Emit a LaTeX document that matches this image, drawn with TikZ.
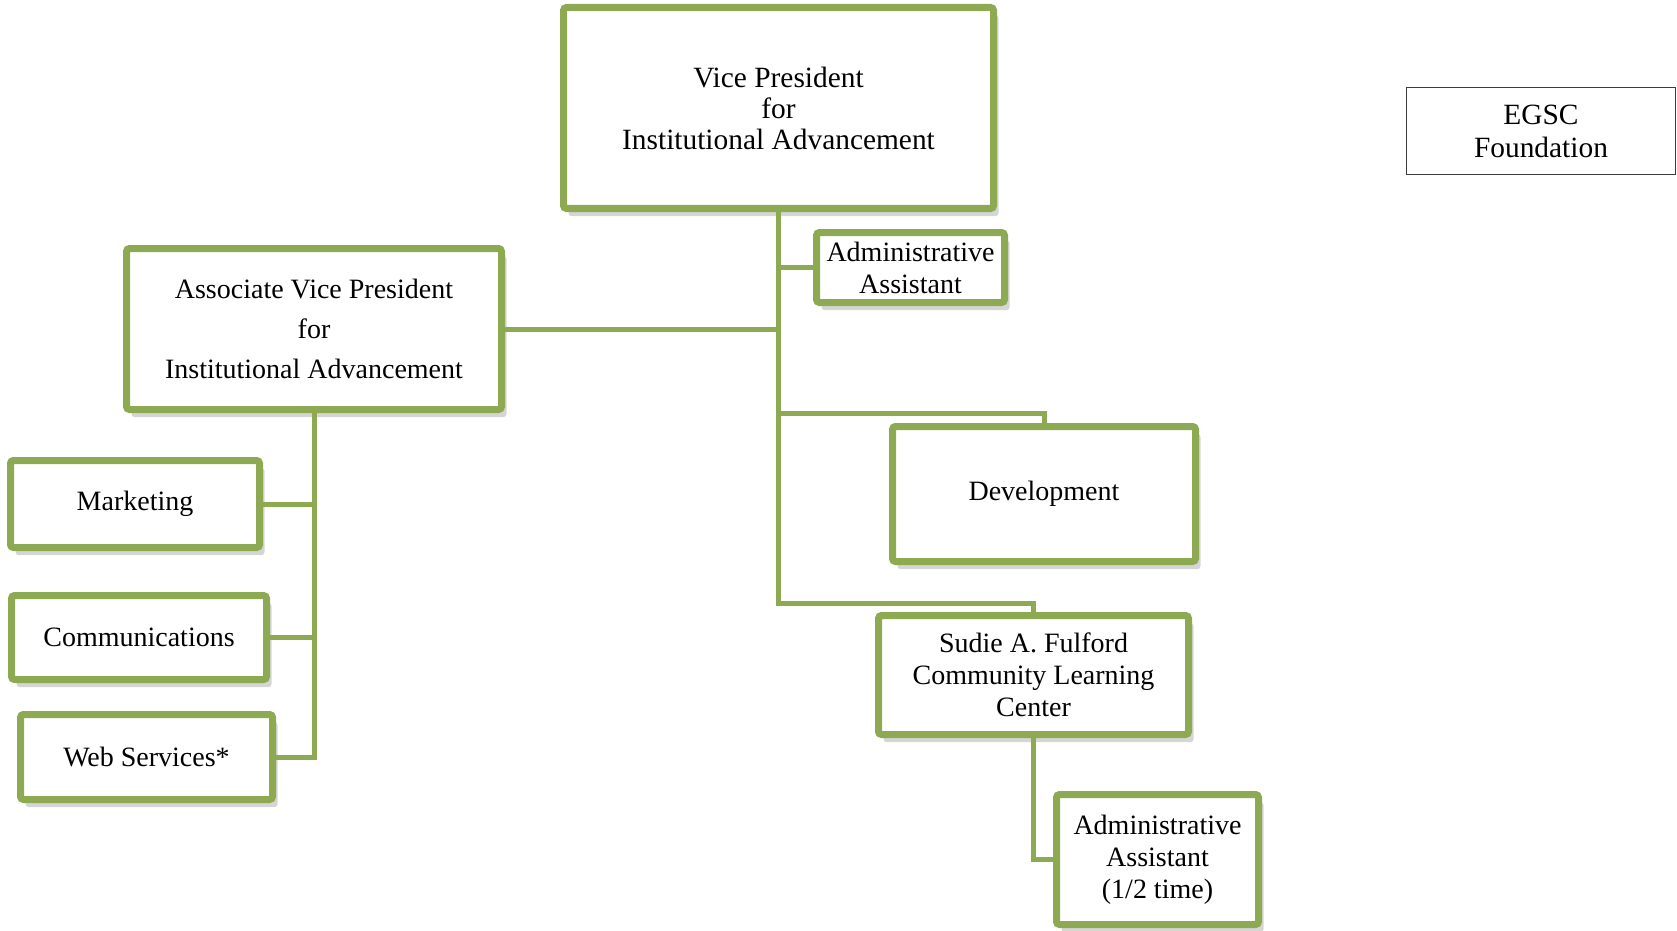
\documentclass[tikz,border=0pt]{standalone}
\usepackage{fontspec}
\setmainfont{Liberation Serif}
\usepackage{xcolor}
\usepackage{tikz}
\usetikzlibrary{positioning, shadows, calc}
\definecolor{olivegreen}{RGB}{141, 170, 82}
\definecolor{framegray}{RGB}{60, 60, 60}
\tikzstyle{unit} = [
    rectangle,
    rounded corners=1.5pt,
    align=center,
    draw=olivegreen,
    line width=3.5pt,
    fill=white,
    inner sep=0pt,
    font=\fontsize{14}{16}\selectfont,
    drop shadow={shadow xshift=2.5pt, shadow yshift=-3.8pt, opacity=0.3, fill=black!55}
]
\tikzstyle{plainbox} = [
    rectangle,
    align=center,
    draw=framegray,
    line width=0.75pt,
    inner sep=0pt,
    font=\fontsize{14.7}{16.5}\selectfont
]
\tikzstyle{link} = [
    line width=2.5pt,
    color=olivegreen
]

\begin{document}
\begin{tikzpicture}[x=0.5pt, y=-0.5pt]
        \useasboundingbox (0,0) rectangle (1677,931);

        % Nodes
        \node[unit, minimum width=215pt, minimum height=100.5pt, font=\fontsize{14.7}{15.5}\selectfont] (vp) at (778.5, 108) {Vice President\\for\\Institutional Advancement};
        \node[unit, minimum width=94pt, minimum height=35pt] (aa) at (910.5, 267.5) {Administrative\\Assistant};
        \node[unit, minimum width=187.5pt, minimum height=80.5pt, font=\fontsize{14}{20}\selectfont] (avp) at (314, 329) {Associate Vice President\\for\\Institutional Advancement};
        \node[unit, minimum width=124.5pt, minimum height=43.5pt] (mkt) at (135, 504) {Marketing};
        \node[unit, minimum width=127.5pt, minimum height=42pt] (comm) at (139, 637.5) {Communications};
        \node[unit, minimum width=126pt, minimum height=42.5pt] (web) at (146.5, 757) {Web Services*};
        \node[unit, minimum width=151.5pt, minimum height=67.5pt] (dev) at (1044, 494) {Development};
        \node[unit, minimum width=155pt, minimum height=59.5pt] (clc) at (1033.5, 675) {Sudie A. Fulford\\Community Learning\\Center};
        \node[unit, minimum width=101pt, minimum height=65pt] (aahalf) at (1157.5, 859.5) {Administrative\\Assistant\\(1/2 time)};
        \node[plainbox, minimum width=134.5pt, minimum height=43.5pt] (egsc) at (1541, 131) {EGSC\\Foundation};

        % Connectors - vice president
        \draw[link] (vp.south) |- (aa.west);
        \draw[link] (avp.east) -| (vp.south);
        \draw[link] (vp.south) |- ([yshift=4.75pt]dev.north) -- (dev.north);
        \draw[link] (vp.south) |- ([yshift=4.25pt]clc.north) -- (clc.north);
        \draw[link] (clc.south) |- (aahalf.west);

        % Connectors - associate vice president
        \draw[link] (avp.south) |- (mkt.east);
        \draw[link] (avp.south) |- (comm.east);
        \draw[link] (avp.south) |- (web.east);
    \end{tikzpicture}
\end{document}
